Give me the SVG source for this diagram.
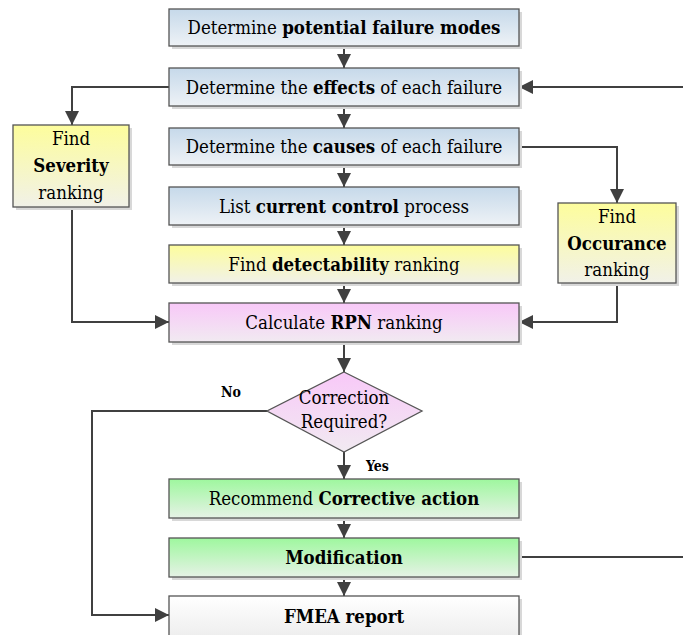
<svg xmlns="http://www.w3.org/2000/svg" width="683" height="635" viewBox="0 0 683 635">
<defs>
<linearGradient id="gBlue" x1="0" y1="0" x2="0" y2="1"><stop offset="0" stop-color="#c6d9ea"/><stop offset="1" stop-color="#eef2f6"/></linearGradient>
<linearGradient id="gYellow" x1="0" y1="0" x2="0" y2="1"><stop offset="0" stop-color="#fdfd9c"/><stop offset="1" stop-color="#f1f1e8"/></linearGradient>
<linearGradient id="gPink" x1="0" y1="0" x2="0" y2="1"><stop offset="0" stop-color="#f8c8f8"/><stop offset="1" stop-color="#f1eaf1"/></linearGradient>
<linearGradient id="gGreen" x1="0" y1="0" x2="0" y2="1"><stop offset="0" stop-color="#9ef79e"/><stop offset="1" stop-color="#e6f2e6"/></linearGradient>
<linearGradient id="gWhite" x1="0" y1="0" x2="0" y2="1"><stop offset="0" stop-color="#ffffff"/><stop offset="1" stop-color="#ececec"/></linearGradient>
<marker id="arr" viewBox="0 0 10 10" refX="10" refY="5" markerWidth="14" markerHeight="14" markerUnits="userSpaceOnUse" orient="auto"><path d="M0,0 L10,5 L0,10 z" fill="#404040"/></marker>
</defs>
<style>
.box{stroke:#555;stroke-width:1.3}
.sh{fill:#d8d8d8}
.t{font-family:'DejaVu Serif Condensed','DejaVu Serif',serif;font-size:18.5px;fill:#000;text-anchor:middle}
.b{font-weight:bold}
.c{fill:none;stroke:#404040;stroke-width:2;marker-end:url(#arr)}
.cn{fill:none;stroke:#404040;stroke-width:2}
.lbl{font-family:'DejaVu Serif Condensed','DejaVu Serif',serif;font-size:14px;font-weight:bold;fill:#000}
</style>
<g id="connectors">
<line class="c" x1="344" y1="46" x2="344" y2="68"/>
<line class="c" x1="344" y1="106" x2="344" y2="128"/>
<line class="c" x1="344" y1="165" x2="344" y2="187"/>
<line class="c" x1="344" y1="225" x2="344" y2="245"/>
<line class="c" x1="344" y1="283" x2="344" y2="303"/>
<line class="c" x1="344" y1="342" x2="344" y2="372"/>
<line class="c" x1="344" y1="452" x2="344" y2="479"/>
<line class="c" x1="344" y1="518" x2="344" y2="538"/>
<line class="c" x1="344" y1="577" x2="344" y2="596"/>
<polyline class="c" points="169,87 72,87 72,125"/>
<polyline class="c" points="72,207 72,322 169,322"/>
<line class="c" x1="683" y1="87" x2="519" y2="87"/>
<polyline class="c" points="519,147 617,147 617,203"/>
<polyline class="c" points="617,283 617,322 519,322"/>
<polyline class="c" points="267,411 92,411 92,615 169,615"/>
<line class="cn" x1="519" y1="557" x2="683" y2="557"/>
<text class="lbl" x="221" y="397">No</text>
<text class="lbl" x="366" y="471">Yes</text>
</g>
<g id="n1"><rect class="sh" x="172" y="12" width="350" height="37"/><rect class="box" x="169" y="9" width="350" height="37" fill="url(#gBlue)"/><text class="t" x="344" y="34">Determine <tspan class="b">potential failure modes</tspan></text></g>
<g id="n2"><rect class="sh" x="172" y="71" width="350" height="38"/><rect class="box" x="169" y="68" width="350" height="38" fill="url(#gBlue)"/><text class="t" x="344" y="94">Determine the <tspan class="b">effects</tspan> of each failure</text></g>
<g id="n3"><rect class="sh" x="172" y="131" width="350" height="37"/><rect class="box" x="169" y="128" width="350" height="37" fill="url(#gBlue)"/><text class="t" x="344" y="153">Determine the <tspan class="b">causes</tspan> of each failure</text></g>
<g id="n4"><rect class="sh" x="172" y="190" width="350" height="38"/><rect class="box" x="169" y="187" width="350" height="38" fill="url(#gBlue)"/><text class="t" x="344" y="213">List <tspan class="b">current control</tspan> process</text></g>
<g id="n5"><rect class="sh" x="172" y="248" width="350" height="38"/><rect class="box" x="169" y="245" width="350" height="38" fill="url(#gYellow)"/><text class="t" x="344" y="271">Find <tspan class="b">detectability</tspan> ranking</text></g>
<g id="n6"><rect class="sh" x="172" y="306" width="350" height="39"/><rect class="box" x="169" y="303" width="350" height="39" fill="url(#gPink)"/><text class="t" x="344" y="329">Calculate <tspan class="b">RPN</tspan> ranking</text></g>
<g id="sev"><rect class="sh" x="16" y="128" width="116" height="82"/><rect class="box" x="13" y="125" width="116" height="82" fill="url(#gYellow)"/><text class="t" x="71" y="145">Find</text><text class="t b" x="71" y="172">Severity</text><text class="t" x="71" y="199">ranking</text></g>
<g id="occ"><rect class="sh" x="561" y="206" width="118" height="80"/><rect class="box" x="558" y="203" width="118" height="80" fill="url(#gYellow)"/><text class="t" x="617" y="223">Find</text><text class="t b" x="617" y="250">Occurance</text><text class="t" x="617" y="276">ranking</text></g>
<g id="dec"><polygon points="344,372 422,411 344,452 267,411" fill="url(#gPink)" stroke="#555" stroke-width="1.3"/><text class="t" x="344" y="404">Correction</text><text class="t" x="344" y="428">Required?</text></g>
<g id="n7"><rect class="sh" x="172" y="482" width="350" height="39"/><rect class="box" x="169" y="479" width="350" height="39" fill="url(#gGreen)"/><text class="t" x="344" y="505">Recommend <tspan class="b">Corrective action</tspan></text></g>
<g id="n8"><rect class="sh" x="172" y="541" width="350" height="39"/><rect class="box" x="169" y="538" width="350" height="39" fill="url(#gGreen)"/><text class="t b" x="344" y="564">Modification</text></g>
<g id="n9"><rect class="sh" x="172" y="599" width="350" height="45"/><rect class="box" x="169" y="596" width="350" height="45" fill="url(#gWhite)"/><text class="t b" x="344" y="623">FMEA report</text></g>
</svg>
